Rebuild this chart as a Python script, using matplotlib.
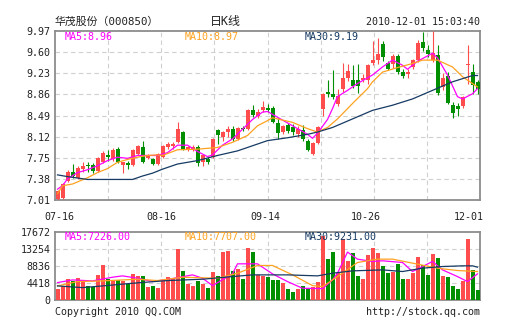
import matplotlib
matplotlib.use('Agg')
import matplotlib.pyplot as plt
import numpy as np

# daily candles 07-16 .. 12-01
opens = [7.03, 7.05, 7.34, 7.50, 7.40, 7.56, 7.62, 7.62, 7.52, 7.68,
         7.79, 7.73, 7.91, 7.63, 7.66, 7.63, 7.82, 7.93, 7.75, 7.73,
         7.64, 7.77, 7.93, 7.96, 8.02, 8.20, 7.89, 7.88, 7.93, 7.68,
         7.73, 7.76, 8.23, 8.11, 8.20, 8.26, 8.08, 8.27, 8.26, 8.58,
         8.49, 8.58, 8.63, 8.63, 8.35, 8.20, 8.33, 8.28, 8.17, 8.24,
         8.05, 7.82, 8.01, 8.60, 8.91, 8.87, 8.70, 8.96, 9.14, 9.11,
         9.11, 9.12, 9.11, 9.41, 9.47, 9.74, 9.41, 9.39, 9.53, 9.25,
         9.22, 9.34, 9.46, 9.78, 9.63, 9.47, 9.55, 8.99, 9.18, 8.68,
         8.65, 8.65, 9.38, 9.25, 9.08]
highs = [7.19, 7.31, 7.53, 7.64, 7.60, 7.67, 7.67, 7.65, 7.77, 7.86,
         7.88, 7.92, 7.93, 7.68, 7.70, 7.90, 7.98, 8.05, 7.82, 7.75,
         7.84, 7.98, 8.02, 8.03, 8.37, 8.22, 7.96, 7.97, 7.98, 7.81,
         7.76, 8.09, 8.25, 8.22, 8.30, 8.30, 8.29, 8.31, 8.60, 8.67,
         8.61, 8.75, 8.70, 8.66, 8.44, 8.32, 8.36, 8.34, 8.30, 8.32,
         8.08, 8.02, 8.30, 8.88, 9.11, 9.28, 8.95, 9.41, 9.40, 9.38,
         9.40, 9.22, 9.40, 9.80, 9.84, 9.80, 9.45, 9.56, 9.56, 9.30,
         9.31, 9.48, 9.81, 9.96, 9.72, 9.97, 9.72, 9.23, 9.26, 8.73,
         8.71, 8.84, 9.72, 9.40, 9.11]
lows = [7.00, 7.03, 7.32, 7.40, 7.38, 7.50, 7.50, 7.48, 7.50, 7.66,
        7.70, 7.70, 7.66, 7.48, 7.56, 7.61, 7.80, 7.66, 7.72, 7.62,
        7.62, 7.75, 7.90, 7.91, 8.00, 7.88, 7.87, 7.86, 7.61, 7.60,
        7.64, 7.74, 7.99, 8.04, 8.12, 8.05, 8.06, 8.22, 8.24, 8.47,
        8.44, 8.55, 8.55, 8.35, 8.07, 8.17, 8.19, 8.15, 8.12, 8.05,
        7.86, 7.80, 7.99, 8.49, 8.81, 8.78, 8.66, 8.90, 9.10, 8.97,
        8.88, 9.08, 9.05, 9.38, 9.40, 9.45, 9.28, 9.33, 9.22, 9.14,
        9.14, 9.30, 9.43, 9.62, 9.52, 9.43, 8.85, 8.93, 8.70, 8.45,
        8.48, 8.63, 9.05, 8.87, 8.86]
closes = [7.17, 7.29, 7.50, 7.43, 7.57, 7.61, 7.60, 7.52, 7.75, 7.84,
          7.77, 7.89, 7.68, 7.67, 7.63, 7.89, 7.96, 7.68, 7.79, 7.64,
          7.82, 7.96, 7.99, 7.99, 8.26, 7.90, 7.93, 7.94, 7.65, 7.79,
          7.68, 8.07, 8.14, 8.20, 8.26, 8.07, 8.27, 8.25, 8.58, 8.50,
          8.55, 8.64, 8.59, 8.37, 8.18, 8.30, 8.22, 8.20, 8.26, 8.08,
          7.89, 8.00, 8.28, 8.86, 8.86, 8.81, 8.84, 9.14, 9.27, 9.00,
          9.01, 9.15, 9.37, 9.47, 9.56, 9.51, 9.31, 9.53, 9.25, 9.19,
          9.25, 9.46, 9.76, 9.68, 9.57, 9.59, 8.88, 9.14, 8.71, 8.53,
          8.61, 8.82, 9.40, 9.02, 8.96]
volumes = [2870, 3580, 5480, 5040, 5740, 4620, 3580, 3320, 6610, 9220,
           5570, 5310, 5310, 5040, 4180, 6790, 6180, 6180, 3390, 3580,
           3130, 5100, 5900, 5700, 13130, 7650, 4180, 3580, 4870, 4180,
           3130, 7310, 6180, 12530, 12700, 7650, 8180, 5570, 13400, 12530,
           6610, 6350, 6000, 5310, 5310, 4440, 2950, 2090, 2950, 3740,
           2950, 3480, 4780, 16600, 10700, 12360, 7000, 15920, 10010, 12180,
           6270, 5480, 11750, 13500, 12270, 8960, 7050, 7310, 9400, 5480,
           5480, 7000, 11200, 9050, 6610, 11830, 10960, 6350, 6000, 3740,
           2960, 5040, 15740, 7920, 2700]

# moving averages (day number, value)
ma5_day = [1, 2, 3, 5, 7, 9, 11, 13, 15, 17, 21, 23, 25, 27, 29, 31, 32, 34, 36, 38,
           40, 42, 43, 45, 47, 49, 51, 52, 53, 55, 56, 57, 59, 61, 64, 66, 68, 70, 71,
           73, 76, 77, 79, 81, 82, 84, 85]
ma5_val = [7.20, 7.26, 7.38, 7.49, 7.54, 7.61, 7.70, 7.76, 7.74, 7.79, 7.79, 7.84, 7.97,
           7.97, 7.86, 7.77, 7.80, 7.97, 8.08, 8.25, 8.42, 8.55, 8.56, 8.46, 8.36, 8.26,
           8.16, 8.09, 8.18, 8.42, 8.61, 8.82, 8.93, 9.05, 9.20, 9.34, 9.46, 9.37, 9.30,
           9.44, 9.58, 9.50, 9.20, 8.82, 8.78, 8.87, 8.96]
ma10_day = [1, 2, 4, 7, 9, 11, 13, 15, 17, 19, 21, 22, 25, 29, 33, 36, 39, 41, 43, 44,
            45, 48, 51, 53, 55, 57, 60, 63, 64, 66, 69, 72, 74, 77, 80, 82, 85]
ma10_val = [7.12, 7.26, 7.29, 7.40, 7.49, 7.56, 7.67, 7.72, 7.76, 7.79, 7.80, 7.79, 7.89,
            7.90, 7.93, 8.02, 8.14, 8.31, 8.40, 8.45, 8.43, 8.37, 8.26, 8.20, 8.28, 8.43,
            8.70, 8.96, 9.08, 9.25, 9.33, 9.40, 9.46, 9.46, 9.34, 9.17, 8.99]
ma30_day = [1, 3, 7, 16, 18, 20, 22, 25, 29, 33, 37, 41, 43, 47, 51, 53, 56, 60, 64, 68,
            72, 76, 80, 84, 85]
ma30_val = [7.45, 7.42, 7.37, 7.37, 7.43, 7.48, 7.55, 7.64, 7.70, 7.79, 7.87, 7.99, 8.05,
            8.10, 8.16, 8.20, 8.28, 8.43, 8.58, 8.67, 8.78, 8.93, 9.08, 9.19, 9.19]

vma5_day = [1, 4, 8, 12, 14, 17, 20, 24, 28, 30, 32, 36, 37, 41, 44, 47, 50, 54, 56, 57,
            59, 61, 64, 66, 70, 72, 76, 78, 81, 83, 85]
vma5_val = [4530, 5220, 4960, 5920, 6270, 5660, 4790, 5570, 6530, 5660, 3740, 6790, 9400,
            9400, 6790, 4790, 3050, 2960, 5220, 6960, 12450, 10620, 10010, 10190, 9750,
            7400, 10010, 7830, 6090, 4790, 6790]
vma10_day = [1, 5, 10, 17, 21, 26, 33, 37, 41, 44, 48, 52, 54, 57, 61, 65, 68, 72, 77, 81, 85]
vma10_val = [3660, 4790, 4960, 5400, 5050, 5920, 5660, 6960, 8970, 8970, 6530, 3740, 3480,
             6090, 9750, 10620, 10620, 9580, 8270, 7660, 7400]
vma30_day = [1, 6, 10, 16, 23, 30, 36, 40, 47, 53, 56, 60, 66, 70, 74, 78, 82, 84, 85]
vma30_val = [3660, 3220, 3660, 4350, 5050, 5400, 6090, 6530, 6530, 6270, 6960, 7570, 7830,
             7400, 8270, 8700, 8880, 8880, 8530]

price_ticks = [7.01, 7.38, 7.75, 8.12, 8.49, 8.86, 9.23, 9.60, 9.97]
vol_ticks = [0, 4418, 8836, 13254, 17672]
date_labels = ['07-16', '08-16', '09-14', '10-26', '12-01']
date_pos = [0.4, 20.7, 41.5, 61.7, 82.3]

RED = '#ff4c4c'
GREEN = '#008f00'
C_MA5 = '#ff00ff'
C_MA10 = '#ffa21f'
C_MA30 = '#163a63'
MONO = ['DejaVu Sans Mono', 'Noto Sans CJK SC']

W, H = 505, 330
fig = plt.figure(figsize=(W / 100, H / 100), dpi=100)
fig.patch.set_facecolor('white')
ax = fig.add_axes([55 / W, 1 - 200 / H, 425 / W, 169 / H])
axv = fig.add_axes([55 / W, 1 - 300 / H, 425 / W, 68 / H])

n = len(closes)
x = np.arange(n)
o = np.array(opens)
c = np.array(closes)
up = c >= o
cols = [RED if u else GREEN for u in up]

# candles
ax.vlines(x, lows, highs, colors=cols, linewidth=0.8, zorder=3)
body_h = np.maximum(np.abs(c - o), 0.012)
ax.bar(x, body_h, bottom=np.minimum(o, c), width=0.8, color=cols, linewidth=0, zorder=4)

ax.plot(np.array(ma5_day) - 1, ma5_val, color=C_MA5, lw=0.9, zorder=5)
ax.plot(np.array(ma10_day) - 1, ma10_val, color=C_MA10, lw=0.9, zorder=5)
ax.plot(np.array(ma30_day) - 1, ma30_val, color=C_MA30, lw=0.9, zorder=5)

# volume
axv.bar(x, volumes, width=0.8, color=cols, linewidth=0, zorder=3)
axv.plot(np.array(vma5_day) - 1, vma5_val, color=C_MA5, lw=0.9, zorder=5)
axv.plot(np.array(vma10_day) - 1, vma10_val, color=C_MA10, lw=0.9, zorder=5)
axv.plot(np.array(vma30_day) - 1, vma30_val, color=C_MA30, lw=0.9, zorder=5)

for a in (ax, axv):
    a.set_xlim(-0.5, n - 0.5)
    for k in range(1, 8):
        a.axvline(-0.5 + n * k / 8, color='#cfcfcf', lw=0.8, ls=(0, (4, 3)), zorder=1)
    for s in a.spines.values():
        s.set_color('#8c8c8c')
        s.set_linewidth(1.3)
    a.tick_params(length=0, labelsize=7.2, colors='#222222', pad=3)

ax.set_ylim(price_ticks[0], price_ticks[-1])
ax.set_yticks(price_ticks)
ax.set_yticklabels(['%.2f' % t for t in price_ticks], family=MONO)
for t in price_ticks[1:-1]:
    ax.axhline(t, color='#cfcfcf', lw=0.8, ls=(0, (4, 3)), zorder=1)
ax.set_xticks(date_pos)
ax.set_xticklabels(date_labels, family=MONO)
ax.tick_params(axis='x', pad=9)

axv.set_ylim(vol_ticks[0], vol_ticks[-1])
axv.set_yticks(vol_ticks)
axv.set_yticklabels([str(t) for t in vol_ticks], family=MONO)
for t in vol_ticks[1:-1]:
    axv.axhline(t, color='#cfcfcf', lw=0.8, ls=(0, (4, 3)), zorder=1)
axv.set_xticks([])

def ftext(px, py, s, color='#222222', ha='left', size=7.2):
    fig.text(px / W, 1 - py / H, s, color=color, ha=ha, va='center',
             fontsize=size, family=MONO)

# header
ftext(55, 22, '华茂股份（000850）', size=7.8)
ftext(225, 22, '日K线', ha='center', size=8.6)
ftext(480, 22, '2010-12-01 15:03:40', ha='right')

# MA labels
ftext(65, 37, 'MA5:8.96', C_MA5)
ftext(185, 37, 'MA10:8.97', C_MA10)
ftext(305, 37, 'MA30:9.19', C_MA30)
ftext(65, 236.5, 'MA5:7226.00', C_MA5)
ftext(185, 236.5, 'MA10:7707.00', C_MA10)
ftext(305, 236.5, 'MA30:9231.00', C_MA30)

# footer
ftext(55, 312, 'Copyright 2010 QQ.COM')
ftext(480, 312, 'http://stock.qq.com', ha='right')

fig.savefig('out.png', dpi=100, facecolor='white')
